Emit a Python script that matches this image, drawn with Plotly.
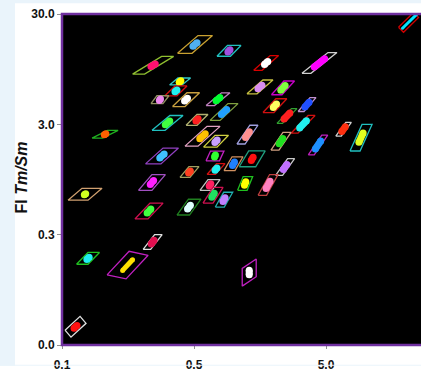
import numpy as np
import plotly.graph_objects as go

# ---- gate centres (data units) ----
gate_x = [21.1, 4.46, 2.36, 1.76, 1.58, 0.920, 0.509, 0.245, 0.392, 0.365,
          0.276, 0.435, 0.760, 0.844, 2.05, 3.59, 2.53, 3.35, 6.79, 9.21,
          2.28, 4.35, 2.45, 1.82, 0.580, 0.734, 1.27, 0.286, 0.721, 0.462,
          0.734, 0.996, 1.38, 0.240, 0.661, 0.697, 0.844, 1.22, 0.458, 0.228,
          0.243, 0.106, 0.0747, 0.0787, 0.157, 0.0633, 1.31, 0.315, 0.527]
gate_y = [25.2, 10.8, 6.42, 10.8, 6.55, 13.9, 15.9, 10.3, 7.34, 6.03,
          5.02, 5.02, 5.07, 3.88, 4.43, 4.53, 3.57, 3.00, 2.71, 2.27,
          2.11, 1.95, 1.23, 0.847, 2.34, 2.11, 2.42, 1.55, 1.55, 1.11,
          1.18, 1.32, 1.46, 0.892, 0.847, 0.683, 0.623, 0.874, 0.533, 0.491,
          0.257, 2.44, 0.697, 0.183, 0.159, 0.0439, 0.136, 3.09, 3.29]
# ---- gate geometry in decades: width, height, horizontal shear, vertical shear ----
gate_w = [0.038, 0.068, 0.080, 0.064, 0.076, 0.102, 0.110, 0.091, 0.095, 0.091,
          0.091, 0.095, 0.064, 0.076, 0.083, 0.045, 0.042, 0.053, 0.042, 0.076,
          0.061, 0.045, 0.053, 0.064, 0.099, 0.102, 0.061, 0.117, 0.102, 0.076,
          0.064, 0.083, 0.125, 0.102, 0.091, 0.076, 0.068, 0.072, 0.095, 0.099,
          0.057, 0.080, 0.152, 0.087, 0.144, 0.045, 0.106, 0.099, 0.083]
gate_h = [0.134, 0.188, 0.125, 0.134, 0.125, 0.098, 0.161, 0.161, 0.063, 0.089,
          0.071, 0.125, 0.116, 0.152, 0.125, 0.125, 0.134, 0.161, 0.125, 0.241,
          0.161, 0.179, 0.152, 0.188, 0.179, 0.107, 0.170, 0.143, 0.089, 0.098,
          0.098, 0.125, 0.143, 0.143, 0.098, 0.143, 0.134, 0.125, 0.143, 0.143,
          0.134, 0.071, 0.107, 0.107, 0.214, 0.125, 0.161, 0.134, 0.098]
gate_s = [0.114, 0.197, 0.095, 0.125, 0.121, 0.080, 0.155, 0.220, 0.064, 0.076,
          0.045, 0.110, 0.117, 0.136, 0.098, 0.091, 0.110, 0.129, 0.076, 0.091,
          0.091, 0.102, 0.091, 0.087, 0.167, 0.087, 0.098, 0.133, 0.034, 0.068,
          0.072, 0.061, 0.072, 0.102, 0.061, 0.076, 0.064, 0.042, 0.087, 0.114,
          0.087, 0.117, 0.106, 0.087, 0.167, 0.114, 0.0, 0.136, 0.083]
gate_v = [-0.045, 0, 0, 0, 0, 0, 0, 0, 0, 0,
          0, 0, 0, 0, 0, 0, 0, 0, 0, 0,
          0, 0, 0, 0, 0, 0, 0, 0, 0, 0,
          0, 0, 0, 0, 0, 0, 0, 0, 0, 0,
          0, 0, 0, 0, -0.036, -0.063, 0.085, 0, 0]
# ---- population (blob) extent along the gate diagonal, and offset ----
blob_len = [1.5, 0.4, 0.35, 0.2, 0.25, 0.2, 0.2, 0.15, 0.2, 0.2,
            0.2, 0.2, 0.25, 0.3, 0.25, 0.35, 0.4, 0.4, 0.35, 0.35,
            0.3, 0.4, 0.3, 0.35, 0.25, 0.2, 0.3, 0.25, 0.2, 0.2,
            0.2, 0.25, 0.2, 0.25, 0.2, 0.25, 0.25, 0.25, 0.25, 0.25,
            0.25, 0.1, 0.1, 0.2, 0.45, 0.2, 0.25, 0.25, 0.2]
blob_off = [0.35] + [0.0] * 48

gate_color = ['#d00000', '#d0d0d0', '#c800c8', '#d80000', '#c8c040', '#20c0c0', '#c8a030', '#90c030', '#30c8c8', '#d01010',
              '#909060', '#c8a040', '#c080c0', '#80a040', '#d01010', '#c090d0', '#30a030', '#d01010', '#d0d0d0', '#20c0c0',
              '#d0a080', '#c020c0', '#c8c8c8', '#c04040', '#e0a0c0', '#d0d040', '#a0a0e0', '#9040c0', '#c020c0', '#a0a060',
              '#d01010', '#d09060', '#20a080', '#a050c0', '#c0c0c0', '#d01050', '#20b0b0', '#20c020', '#208020', '#d01050',
              '#e0e0e0', '#20b020', '#d0a070', '#20c020', '#c020c0', '#e0e0e0', '#c020c0', '#20c0c0', '#b0b070']
blob_color = ['#00e5ff', '#ff00ff', '#80ff40', '#ffffff', '#d98cf0', '#a050e0', '#50b0f0', '#ff1070', '#ffff00', '#20f0f0',
              '#ee88ee', '#ffffff', '#00ff30', '#20a0ff', '#ffff60', '#2050ff', '#ff2020', '#20f0f0', '#ff3010', '#e0ff20',
              '#20e020', '#1e90ff', '#c070ff', '#ff80c0', '#ffc000', '#c8a0ff', '#ff9090', '#40c0ff', '#30ff30', '#ff4020',
              '#20f0f0', '#2080ff', '#ff1010', '#ff20ff', '#ff2060', '#20e060', '#c080ff', '#ffff00', '#e0ffff', '#40ff40',
              '#e01050', '#ff6000', '#d0ff20', '#20f0f0', '#ffe000', '#ff1010', '#ffffff', '#40ff40', '#ff2020']

x_ticks = [0.05, 0.5, 5]
x_labels = ['0.1', '0.5', '5.0']
y_ticks = [0.03, 0.3, 3, 30]
y_labels = ['0.0', '0.3', '3.0', '30.0']

fig = go.Figure()
us = [-0.5, 0.5, 0.5, -0.5, -0.5]
vs = [-0.5, -0.5, 0.5, 0.5, -0.5]
for i in range(len(gate_x)):
    lx, ly = np.log10(gate_x[i]), np.log10(gate_y[i])
    w, h, s, v = gate_w[i], gate_h[i], gate_s[i], gate_v[i]
    xs = [10 ** (lx + u * w + q * s) for u, q in zip(us, vs)]
    ys = [10 ** (ly + q * h + u * v) for u, q in zip(us, vs)]
    fig.add_trace(go.Scatter(x=xs, y=ys, mode='lines',
                             line=dict(color=gate_color[i], width=1.3),
                             hoverinfo='skip', showlegend=False))
    t, f = blob_off[i], blob_len[i]
    bx = [10 ** (lx + (t - f / 2) * s), 10 ** (lx + (t + f / 2) * s)]
    by = [10 ** (ly + (t - f / 2) * h), 10 ** (ly + (t + f / 2) * h)]
    bw = 3 if i == 0 else (5 if i == 44 else 7)
    fig.add_trace(go.Scatter(x=bx, y=by, mode='lines+markers',
                             line=dict(color=blob_color[i], width=bw),
                             marker=dict(size=bw, color=blob_color[i], line=dict(width=0)),
                             hoverinfo='skip', showlegend=False))

W, H = 421, 372
L, R, T, B = 62, 0, 14, 21
pw, ph = W - L - R, H - T - B
lx0 = np.log10(0.05)
ly0, ly1 = np.log10(0.03), np.log10(30)

tickfont = dict(family='Liberation Sans', size=12, color='#111111', weight='bold')
fig.update_layout(
    width=W, height=H, margin=dict(l=L, r=R, t=T, b=B),
    paper_bgcolor='white', plot_bgcolor='black', showlegend=False,
    xaxis=dict(type='log', range=[lx0, lx0 + pw / 132.0], tickvals=x_ticks, ticktext=x_labels,
               ticks='outside', ticklen=3, tickcolor='#909090', tickwidth=1,
               showgrid=False, zeroline=False, showline=False, tickfont=tickfont,
               ticklabelstandoff=6),
    yaxis=dict(type='log', range=[ly0, ly1], tickvals=y_ticks, ticktext=y_labels,
               ticks='outside', ticklen=4, tickcolor='#909090', tickwidth=1,
               showgrid=False, zeroline=False, showline=False, tickfont=tickfont),
    shapes=[
        dict(type='rect', xref='paper', yref='paper', x0=-L / pw, x1=(15 - L) / pw,
             y0=-B / ph, y1=(H - T) / ph, fillcolor='#eaf4fb', line=dict(width=0), layer='above'),
        dict(type='rect', xref='paper', yref='paper', x0=-L / pw, x1=1.05,
             y0=(H - T - 10) / ph, y1=(H - T) / ph, fillcolor='#eaf4fb', line=dict(width=0), layer='above'),
        dict(type='rect', xref='paper', yref='paper', x0=-L / pw, x1=1.05,
             y0=-B / ph, y1=(-B + 1) / ph, fillcolor='#eaf4fb', line=dict(width=0), layer='above'),
        dict(type='rect', xref='paper', yref='paper', x0=0, x1=1.03, y0=0, y1=1,
             line=dict(color='#7030a0', width=2.5), layer='above'),
    ],
    annotations=[dict(text='<b>FI <i>Tm/Sm</i></b>', xref='paper', yref='paper',
                      x=(22 - L) / pw, y=(H - B - 180.5) / ph, textangle=-90,
                      showarrow=False, xanchor='center', yanchor='middle',
                      font=dict(family='Liberation Sans', size=16, color='#111111'))],
)
fig.write_html('out.html', config={'displayModeBar': False},
               post_script="document.body.style.margin='0';document.body.style.overflow='hidden';")
